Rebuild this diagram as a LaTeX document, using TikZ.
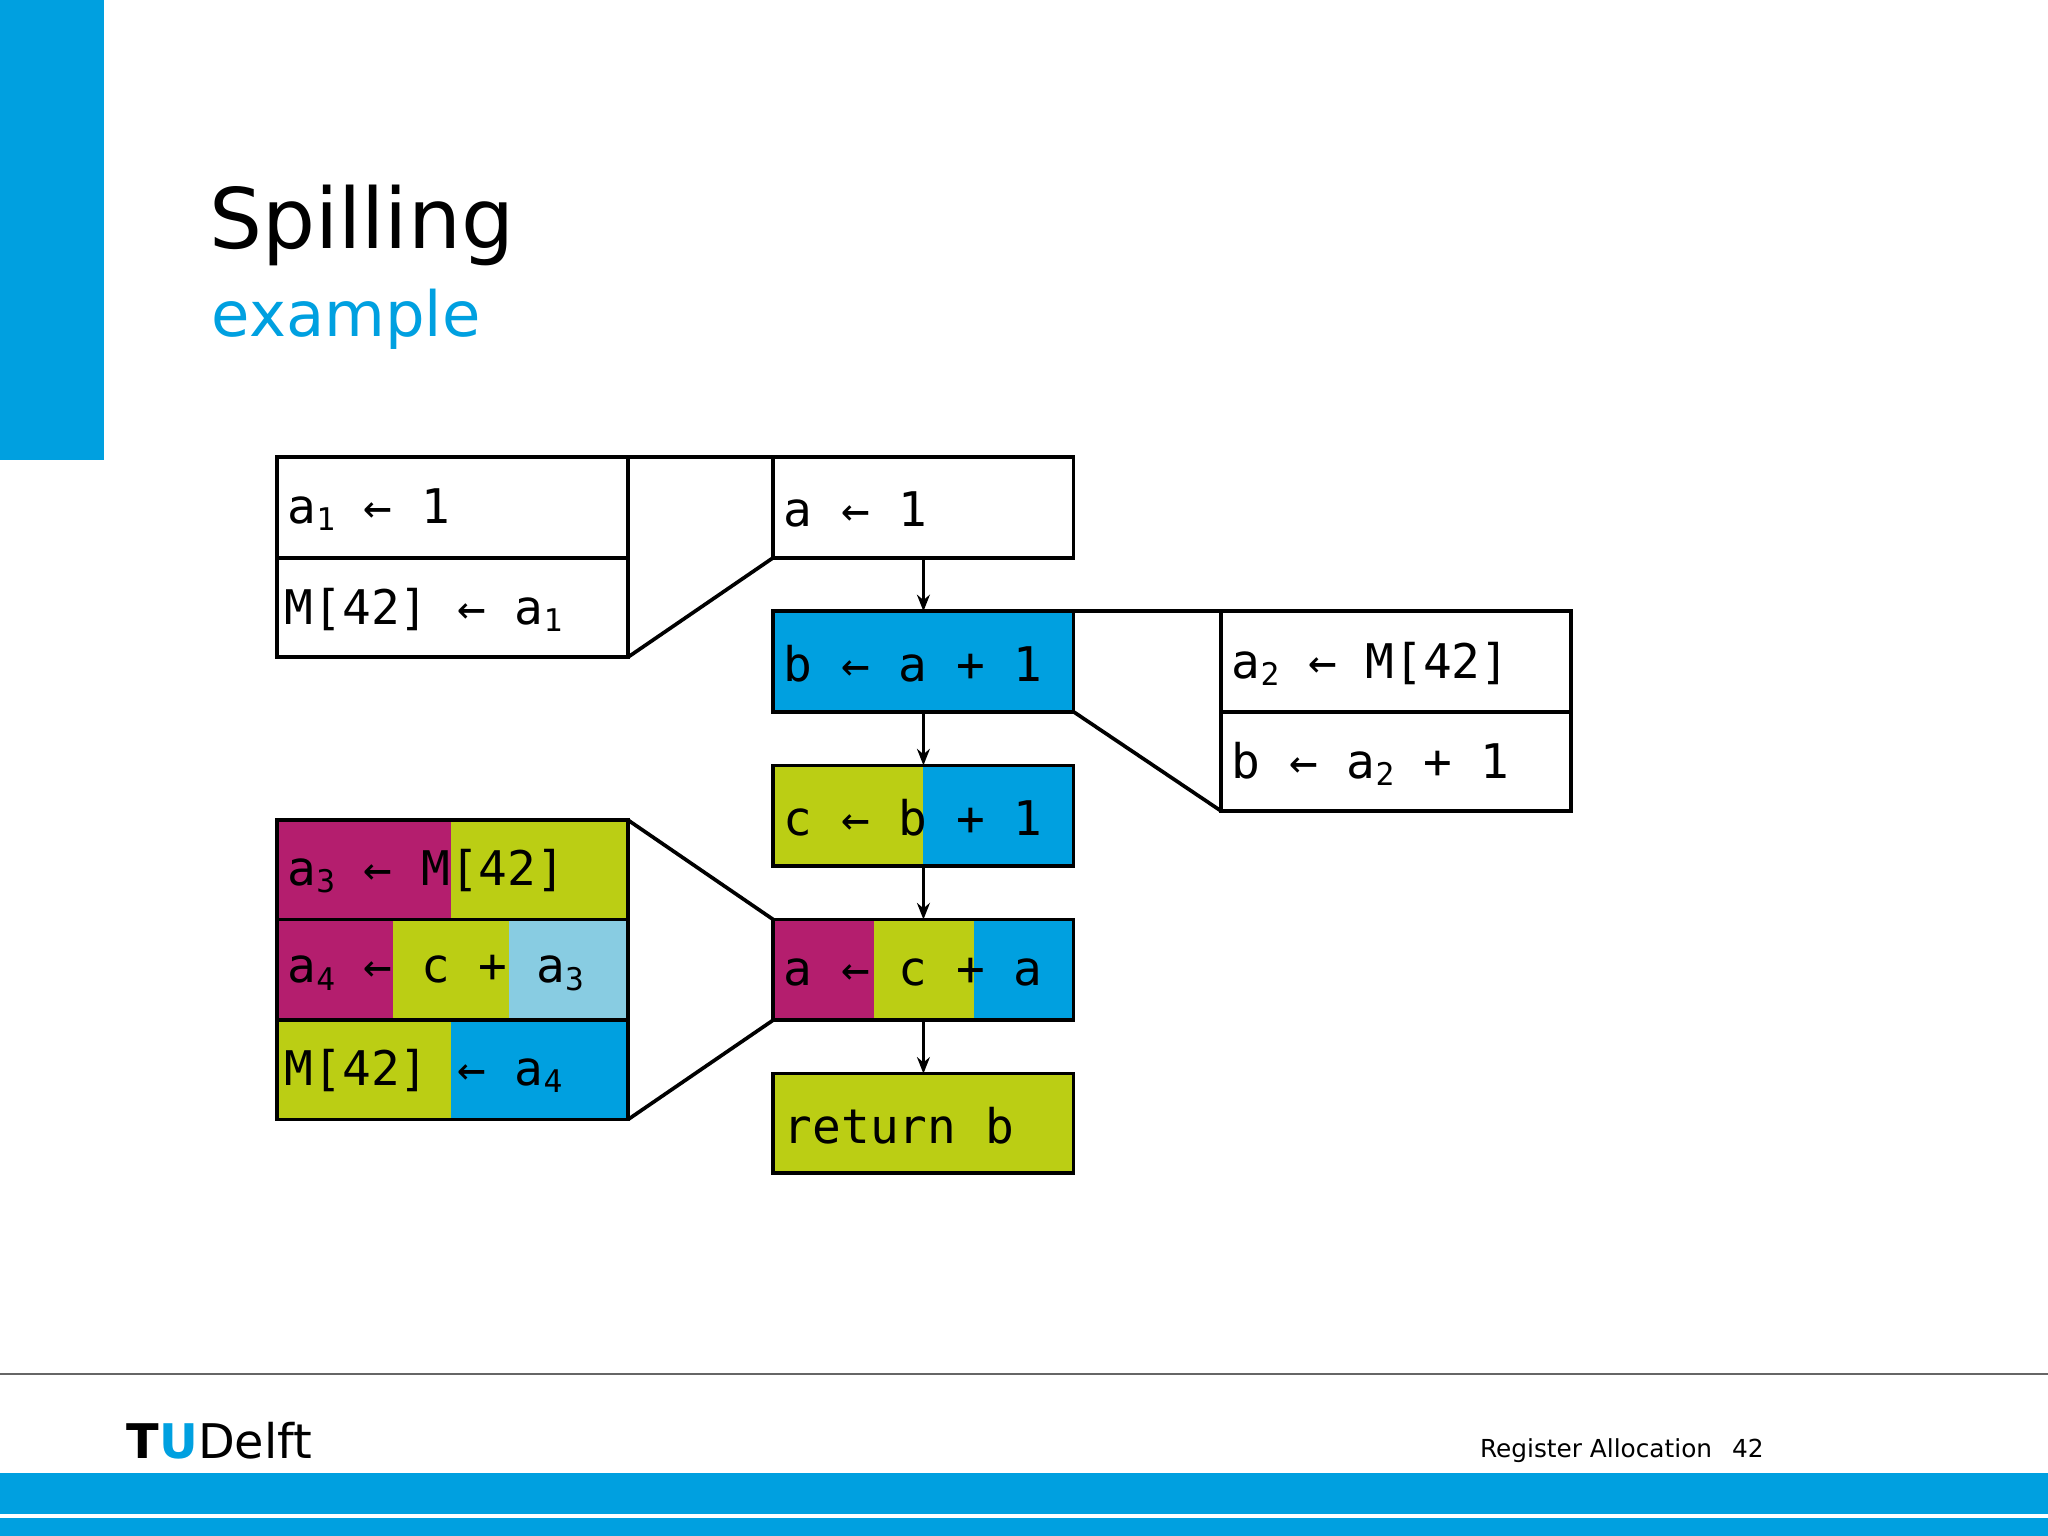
\documentclass[tikz,border=0pt]{standalone}
\usepackage{fontspec}
\setmainfont{DejaVu Sans}
\newfontfamily\monof{DejaVu Sans Mono}
\usetikzlibrary{arrows.meta}
\definecolor{tublue}{RGB}{0,160,224}
\definecolor{tugreen}{RGB}{187,206,20}
\definecolor{tumag}{RGB}{180,30,110}
\definecolor{tulight}{RGB}{136,204,226}
\newcommand{\sbs}[1]{\raisebox{-0.15em}{\fontsize{34}{36}\selectfont #1}}
\tikzset{
  cell/.style={draw=black,line width=4pt},
  code/.style={anchor=west,inner sep=0pt,font=\monof\fontsize{52}{56}\selectfont},
  flow/.style={line width=3.5pt,-{Stealth[length=18pt,width=14pt]}},
  link/.style={line width=4pt}
}
\begin{document}
\begin{tikzpicture}[x=0.5mm,y=-0.5mm]
\useasboundingbox (0,0) rectangle (1568,1176);
\fill[tublue] (0,0) rectangle (80,352);
\node[anchor=base west,inner sep=0pt,font=\fontsize{91}{91}\selectfont] (title) at (160,190) {Spilling};
\node[anchor=base west,inner sep=0pt,text=tublue,font=\fontsize{68}{68}\selectfont] (sub) at (162,258) {example};
% left top
\draw[cell] (212,350) rectangle (481,427);
\draw[cell] (212,427) rectangle (481,503);
\node[code] (l1) at (220,390) {a\sbs{1} ← 1};
\node[code] (l2) at (218,467) {M[42] ← a\sbs{1}};
% center
\draw[cell] (592,350) rectangle (822,427);
\node[code] (c1) at (600,390) {a ← 1};
\draw[cell,fill=tublue] (592,468) rectangle (822,545);
\node[code] (c2) at (600,508) {b ← a + 1};
\fill[tugreen] (592,586) rectangle (707,663);
\fill[tublue] (707,586) rectangle (822,663);
\draw[cell] (592,586) rectangle (822,663);
\node[code] (c3) at (600,626) {c ← b + 1};
\fill[tumag] (592,704) rectangle (669,781);
\fill[tugreen] (669,704) rectangle (746,781);
\fill[tublue] (746,704) rectangle (822,781);
\draw[cell] (592,704) rectangle (822,781);
\node[code] (c4) at (600,744) {a ← c + a};
\draw[cell,fill=tugreen] (592,822) rectangle (822,898);
\node[code] (c5) at (600,862) {return b};
% right
\draw[cell] (935,468) rectangle (1203,545);
\draw[cell] (935,545) rectangle (1203,621);
\node[code] (r1) at (943,508) {a\sbs{2} ← M[42]};
\node[code] (r2) at (943,585) {b ← a\sbs{2} + 1};
% left bottom
\fill[tumag] (212,628) rectangle (345,704);
\fill[tugreen] (345,628) rectangle (481,704);
\fill[tumag] (212,704) rectangle (301,781);
\fill[tugreen] (301,704) rectangle (390,781);
\fill[tulight] (390,704) rectangle (481,781);
\fill[tugreen] (212,781) rectangle (345,857);
\fill[tublue] (345,781) rectangle (481,857);
\draw[cell] (212,628) rectangle (481,704);
\draw[cell] (212,704) rectangle (481,781);
\draw[cell] (212,781) rectangle (481,857);
\node[code] (b1) at (220,667) {a\sbs{3} ← M[42]};
\node[code] (b2) at (220,745) {a\sbs{4} ← c + a\sbs{3}};
\node[code] (b3) at (218,820) {M[42] ← a\sbs{4}};
% links
\draw[link] (481,350) -- (592,350);
\draw[link] (481,503) -- (592,427);
\draw[link] (822,468) -- (935,468);
\draw[link] (822,545) -- (935,621);
\draw[link] (481,628) -- (592,704);
\draw[link] (481,857) -- (592,781);
% arrows
\coordinate (a1) at (707,427); \coordinate (a1e) at (707,468);
\coordinate (a2) at (707,545); \coordinate (a2e) at (707,586);
\coordinate (a3) at (707,663); \coordinate (a3e) at (707,704);
\coordinate (a4) at (707,781); \coordinate (a4e) at (707,822);
\draw[flow] (a1) -- (a1e);
\draw[flow] (a2) -- (a2e);
\draw[flow] (a3) -- (a3e);
\draw[flow] (a4) -- (a4e);
% footer
\draw[gray!80!black,line width=1.5pt] (0,1052) -- (1568,1052);
\fill[tublue] (0,1128) rectangle (1568,1176);
\fill[white] (0,1159) rectangle (1568,1162);
\node[anchor=base west,inner sep=0pt,font=\bfseries\fontsize{52}{52}\selectfont] (logo) at (97,1117) {T\textcolor{tublue}{U}\mdseries Delft};
\node[anchor=base west,inner sep=0pt,font=\fontsize{27}{27}\selectfont] (foot) at (1133,1116) {Register Allocation\hspace{0.8em}42};
\end{tikzpicture}
\end{document}
